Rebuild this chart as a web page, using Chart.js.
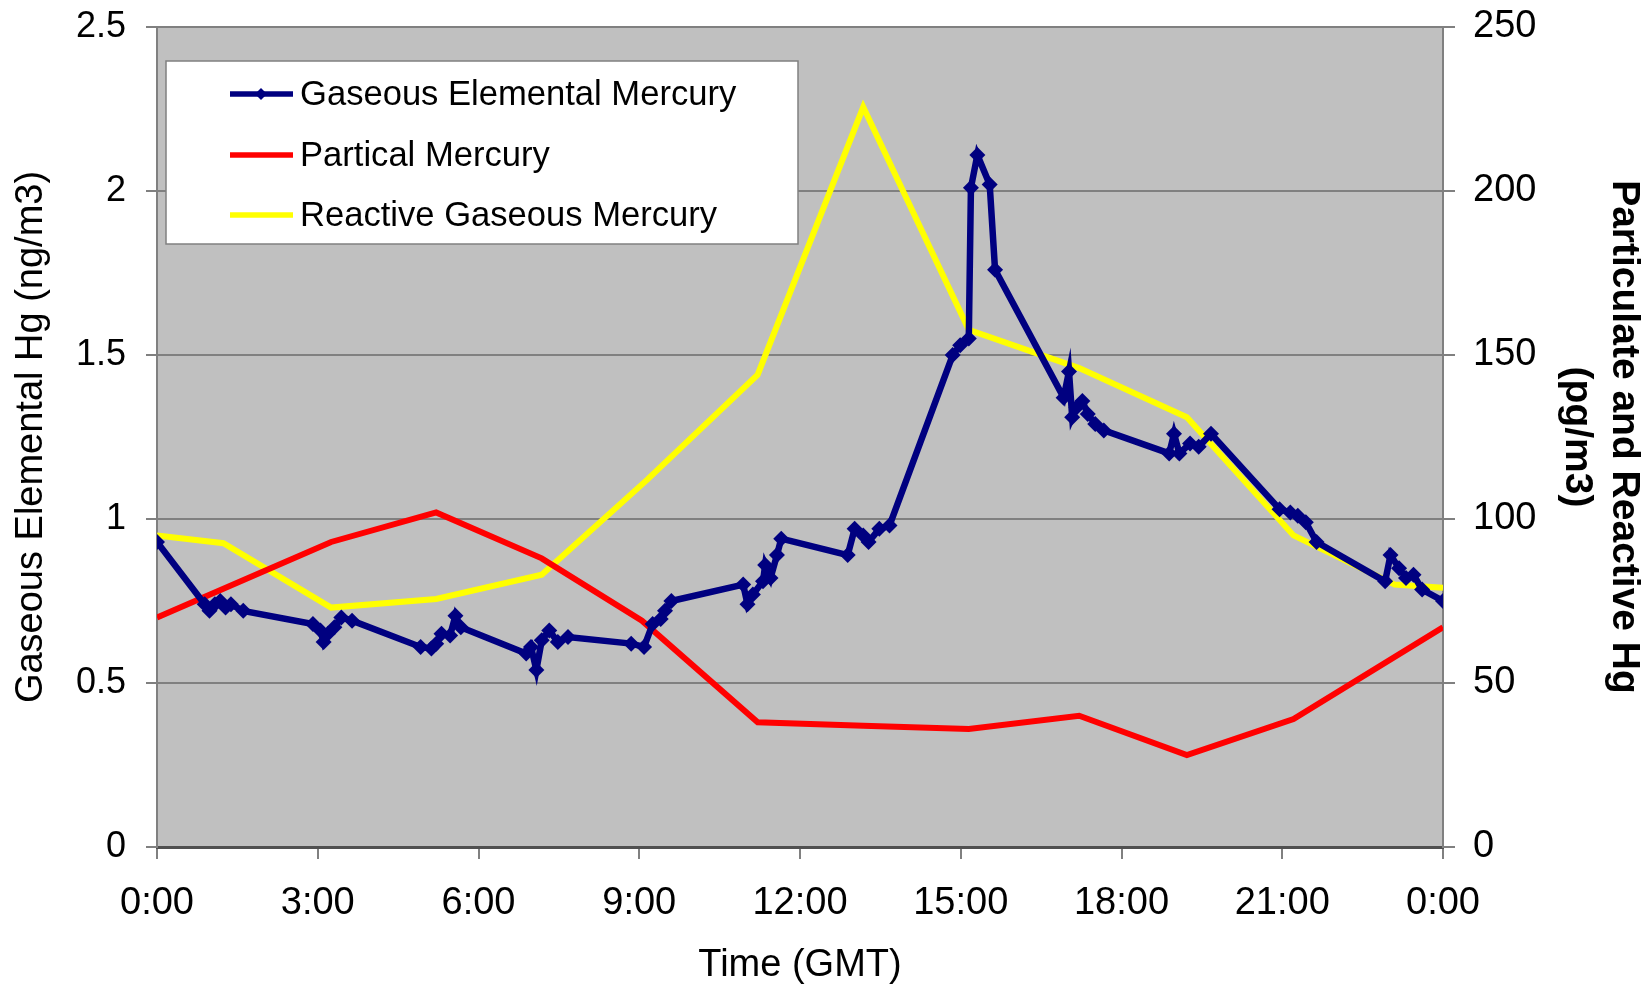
<!DOCTYPE html>
<html>
<head>
<meta charset="utf-8">
<script src="https://cdn.jsdelivr.net/npm/chart.js@4.4.1/dist/chart.umd.min.js"></script>
<style>
  html, body { margin: 0; padding: 0; background: #ffffff; }
  #wrap { width: 1652px; height: 988px; position: relative; }
</style>
</head>
<body>
<div id="wrap"><canvas id="c" width="1652" height="988"></canvas></div>
<script>
// ---- Data ----
const gemHours = [0, 0.89, 0.98, 1.08, 1.18, 1.28, 1.38, 1.61, 2.91, 3.05, 3.11, 3.19, 3.31, 3.44, 3.64,
  4.92, 5.12, 5.21, 5.31, 5.47, 5.57, 5.67, 6.89, 6.98, 7.08, 7.18, 7.32, 7.48, 7.67,
  8.85, 9.09, 9.25, 9.40, 9.48, 9.60, 10.94, 11.02, 11.12, 11.31, 11.35, 11.45, 11.57, 11.65,
  12.89, 13.02, 13.18, 13.28, 13.48, 13.67, 14.85, 14.99, 15.15, 15.19, 15.31, 15.54, 15.64,
  16.92, 17.02, 17.08, 17.16, 17.27, 17.37, 17.51, 17.67, 18.89, 18.98, 19.08, 19.28, 19.44, 19.67,
  20.95, 21.15, 21.29, 21.44, 21.64, 22.92, 23.02, 23.18, 23.31, 23.45, 23.61, 24.0];
const gemValues = [0.93, 0.74, 0.72, 0.74, 0.75, 0.73, 0.74, 0.72, 0.68, 0.66, 0.625, 0.65, 0.67, 0.70, 0.69,
  0.61, 0.605, 0.62, 0.65, 0.645, 0.705, 0.67, 0.59, 0.61, 0.54, 0.63, 0.66, 0.625, 0.64,
  0.62, 0.61, 0.68, 0.695, 0.72, 0.75, 0.80, 0.74, 0.77, 0.81, 0.86, 0.82, 0.89, 0.94,
  0.89, 0.97, 0.95, 0.93, 0.97, 0.98, 1.50, 1.53, 1.55, 2.01, 2.11, 2.02, 1.76,
  1.37, 1.45, 1.31, 1.34, 1.36, 1.32, 1.29, 1.27, 1.20, 1.26, 1.20, 1.23, 1.22, 1.26,
  1.03, 1.02, 1.01, 0.99, 0.93, 0.81, 0.89, 0.85, 0.82, 0.83, 0.785, 0.75];

const pmHours = [0, 3.25, 5.21, 7.18, 9.05, 11.21, 13.18, 15.15, 17.21, 19.22, 21.21, 24];
const pmValues = [70, 93, 102, 88, 69, 38, 37, 36, 40, 28, 39, 67];

const rgmHours = [0, 1.24, 3.25, 5.21, 7.18, 9.15, 11.21, 13.18, 15.15, 17.21, 19.22, 21.21, 23.1, 24];
const rgmValues = [95, 92.6, 73, 75.6, 83, 112, 144, 225.6, 157.7, 146, 131, 95, 80, 79];

const seriesLabels = ["Gaseous Elemental Mercury", "Partical Mercury", "Reactive Gaseous Mercury"];
const xAxisTitle = "Time (GMT)";
const yLeftTitle = "Gaseous Elemental Hg (ng/m3)";
const yRightTitle = ["Particulate and Reactive Hg", "(pg/m3)"];

const toXY = (xs, ys) => xs.map((x, i) => ({ x: x, y: ys[i] }));

const FONT = "'Liberation Sans', Arial, sans-serif";

const plotBg = {
  id: 'plotBg',
  beforeDraw(chart) {
    const { ctx, chartArea: a } = chart;
    ctx.save();
    ctx.fillStyle = '#C0C0C0';
    ctx.fillRect(a.left, a.top, a.right - a.left, a.bottom - a.top);
    ctx.restore();
  }
};

const boxLegend = {
  id: 'boxLegend',
  afterDraw(chart) {
    const ctx = chart.ctx;
    const bx = 166, by = 61, bw = 632, bh = 183;
    ctx.save();
    ctx.fillStyle = '#ffffff';
    ctx.fillRect(bx, by, bw, bh);
    ctx.strokeStyle = '#808080';
    ctx.lineWidth = 1.5;
    ctx.strokeRect(bx, by, bw, bh);
    const rows = [94, 155, 215];
    chart.data.datasets.forEach((ds, i) => {
      const y = rows[i];
      ctx.strokeStyle = ds.borderColor;
      ctx.lineWidth = 5.5;
      ctx.beginPath();
      ctx.moveTo(230, y);
      ctx.lineTo(293, y);
      ctx.stroke();
      if (ds.pointRadius > 0) {
        ctx.fillStyle = ds.borderColor;
        const r = 6;
        const cx = 261;
        ctx.beginPath();
        ctx.moveTo(cx, y - r);
        ctx.lineTo(cx + r, y);
        ctx.lineTo(cx, y + r);
        ctx.lineTo(cx - r, y);
        ctx.closePath();
        ctx.fill();
      }
      ctx.fillStyle = '#000000';
      ctx.font = "34.6px " + FONT;
      ctx.textBaseline = 'middle';
      ctx.textAlign = 'left';
      ctx.fillText(ds.label, 300, y + 1);
    });
    ctx.restore();
  }
};

new Chart(document.getElementById('c'), {
  type: 'line',
  data: {
    datasets: [
      {
        label: seriesLabels[0],
        data: toXY(gemHours, gemValues),
        yAxisID: 'y',
        borderColor: '#000080',
        backgroundColor: '#000080',
        borderWidth: 6.5,
        pointStyle: 'rectRot',
        pointRadius: 8,
        pointBorderWidth: 0,
        tension: 0
      },
      {
        label: seriesLabels[1],
        data: toXY(pmHours, pmValues),
        yAxisID: 'y1',
        borderColor: '#FF0000',
        backgroundColor: '#FF0000',
        borderWidth: 6,
        pointRadius: 0,
        tension: 0
      },
      {
        label: seriesLabels[2],
        data: toXY(rgmHours, rgmValues),
        yAxisID: 'y1',
        borderColor: '#FFFF00',
        backgroundColor: '#FFFF00',
        borderWidth: 6,
        pointRadius: 0,
        tension: 0
      }
    ]
  },
  options: {
    responsive: false,
    animation: false,
    devicePixelRatio: 1,
    layout: { padding: { top: 27, left: 0, right: 0, bottom: 0 } },
    plugins: {
      legend: { display: false },
      tooltip: { enabled: false }
    },
    scales: {
      x: {
        type: 'linear',
        min: 0, max: 24,
        afterFit(s) { s.height = 141; s.paddingLeft = 0; s.paddingRight = 0; },
        ticks: {
          stepSize: 3,
          color: '#000000',
          font: { family: FONT, size: 38 },
          padding: 22,
          maxRotation: 0,
          callback: (v) => (v % 24) + ':00'
        },
        grid: { drawOnChartArea: false, drawTicks: true, tickLength: 12, color: '#808080', lineWidth: 2 },
        border: { color: '#505050', width: 3 },
        title: { display: true, text: xAxisTitle, color: '#000000', font: { family: FONT, size: 38, lineHeight: 1.2 }, padding: { top: 0, bottom: 0 } }
      },
      y: {
        position: 'left',
        min: 0, max: 2.5,
        afterFit(s) { s.width = 157; s.paddingTop = 0; s.paddingBottom = 0; },
        ticks: {
          stepSize: 0.5,
          color: '#000000',
          font: { family: FONT, size: 36 },
          padding: 20,
          callback: (v) => String(Number(v))
        },
        grid: { drawOnChartArea: true, drawTicks: true, tickLength: 11, color: '#808080', lineWidth: 2 },
        border: { color: '#808080', width: 2 },
        title: { display: true, text: yLeftTitle, color: '#000000', font: { family: FONT, size: 38, lineHeight: 1.2 }, padding: { top: 9, bottom: 0 } }
      },
      y1: {
        position: 'right',
        min: 0, max: 250,
        afterFit(s) { s.width = 209; s.paddingTop = 0; s.paddingBottom = 0; },
        ticks: {
          stepSize: 50,
          color: '#000000',
          font: { family: FONT, size: 38 },
          padding: 18
        },
        grid: { drawOnChartArea: false, drawTicks: true, tickLength: 12, color: '#808080', lineWidth: 2 },
        border: { color: '#808080', width: 2 },
        title: { display: true, text: yRightTitle, color: '#000000', font: { family: FONT, size: 39, weight: 'bold', lineHeight: 1.22 }, padding: { top: 4, bottom: 0 } }
      }
    }
  },
  plugins: [plotBg, boxLegend]
});
</script>
</body>
</html>
